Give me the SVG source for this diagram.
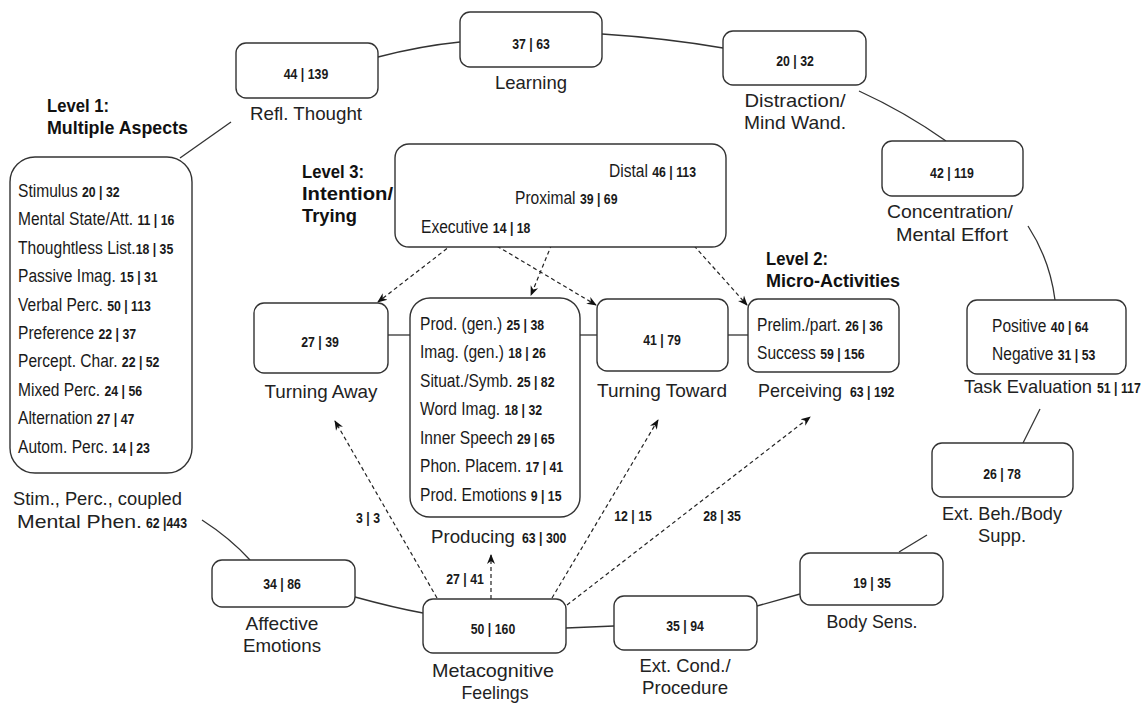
<svg xmlns="http://www.w3.org/2000/svg" width="1143" height="703" viewBox="0 0 1143 703">
<defs>
<style>
.bx{fill:#fff;stroke:#333;stroke-width:1.4}
.ln{fill:none;stroke:#333;stroke-width:1.3}
.da{fill:none;stroke:#222;stroke-width:1.2;stroke-dasharray:4 3;marker-end:url(#ah)}
.li{font-family:"Liberation Sans",Arial,sans-serif;font-size:19px;fill:#1a1a1a}
.b{font-family:"Liberation Sans",Arial,sans-serif;font-size:15px;font-weight:bold;fill:#1a1a1a}
.n{font-family:"Liberation Sans",Arial,sans-serif;font-size:15px;font-weight:bold;fill:#1a1a1a;text-anchor:middle}
.lbl{font-family:"Liberation Sans",Arial,sans-serif;font-size:18.5px;fill:#222}
.c{text-anchor:middle}
.hd{font-family:"Liberation Sans",Arial,sans-serif;font-size:18px;font-weight:bold;fill:#111}
</style>
<marker id="ah" viewBox="0 0 10 10" refX="9" refY="5" markerWidth="10" markerHeight="10" markerUnits="userSpaceOnUse" orient="auto">
<path d="M0,1 L10,5 L0,9 L3,5 z" fill="#111"/>
</marker>
</defs>
<rect width="1143" height="703" fill="#fff"/>

<g id="connectors">
<path class="ln" d="M378,57 Q420,46 460,42"/>
<path class="ln" d="M602,34 Q665,38 723,48"/>
<path class="ln" d="M859,91 Q905,112 946,141"/>
<path class="ln" d="M1028,226 Q1050,260 1055,300"/>
<path class="ln" d="M1040,409 L1023,443"/>
<path class="ln" d="M899,552 L927,535"/>
<path class="ln" d="M757,606 L800,594"/>
<path class="ln" d="M566,628 L614,626"/>
<path class="ln" d="M355,597 Q395,608 423,613"/>
<path class="ln" d="M202,520 Q230,538 250,560"/>
<path class="ln" d="M180,158 L231,122"/>
<path class="ln" d="M388,335 L410,335"/>
<path class="ln" d="M580,335 L597,335"/>
<path class="ln" d="M728,335 L748,335"/>
<path class="da" d="M458,240 L378,302"/>
<path class="da" d="M485,239 L596,305"/>
<path class="da" d="M565,212 L531,295"/>
<path class="da" d="M638,183 L747,305"/>
<path class="da" d="M437,598 L335,421"/>
<path class="da" d="M491,599 L491,555"/>
<path class="da" d="M552,598 L658,420"/>
<path class="da" d="M567,605 L810,417"/>
<text class="n" transform="translate(368,523) scale(0.82,1)">3 | 3</text>
<text class="n" transform="translate(465,584) scale(0.82,1)">27 | 41</text>
<text class="n" transform="translate(633,521) scale(0.82,1)">12 | 15</text>
<text class="n" transform="translate(722,521) scale(0.82,1)">28 | 35</text>
</g>

<g id="level1">
<text class="hd" x="47" y="112" textLength="62" lengthAdjust="spacingAndGlyphs">Level 1:</text>
<text class="hd" x="47" y="134" textLength="141" lengthAdjust="spacingAndGlyphs">Multiple Aspects</text>
<rect class="bx" x="10" y="157" width="182" height="316" rx="25"/>
<text class="li" transform="translate(18,197) scale(0.82,1)">Stimulus <tspan class="b">20 | 32</tspan></text>
<text class="li" transform="translate(18,225) scale(0.82,1)">Mental State/Att. <tspan class="b">11 | 16</tspan></text>
<text class="li" transform="translate(18,254) scale(0.82,1)">Thoughtless List.<tspan class="b">18 | 35</tspan></text>
<text class="li" transform="translate(18,282) scale(0.82,1)">Passive Imag. <tspan class="b">15 | 31</tspan></text>
<text class="li" transform="translate(18,311) scale(0.82,1)">Verbal Perc. <tspan class="b">50 | 113</tspan></text>
<text class="li" transform="translate(18,339) scale(0.82,1)">Preference <tspan class="b">22 | 37</tspan></text>
<text class="li" transform="translate(18,367) scale(0.82,1)">Percept. Char. <tspan class="b">22 | 52</tspan></text>
<text class="li" transform="translate(18,396) scale(0.82,1)">Mixed Perc. <tspan class="b">24 | 56</tspan></text>
<text class="li" transform="translate(18,424) scale(0.82,1)">Alternation <tspan class="b">27 | 47</tspan></text>
<text class="li" transform="translate(18,453) scale(0.82,1)">Autom. Perc. <tspan class="b">14 | 23</tspan></text>
<text class="lbl" x="13" y="505" textLength="169" lengthAdjust="spacingAndGlyphs">Stim., Perc., coupled</text>
<text class="lbl" x="17" y="528" textLength="125" lengthAdjust="spacingAndGlyphs">Mental Phen.</text>
<text class="b" transform="translate(146,528) scale(0.82,1)">62 |443</text>
</g>

<g id="refl">
<rect class="bx" x="236" y="43" width="142" height="55" rx="10"/>
<text class="n" transform="translate(306,79) scale(0.82,1)">44 | 139</text>
<text class="lbl c" x="306" y="120" textLength="112" lengthAdjust="spacingAndGlyphs">Refl. Thought</text>
</g>

<g id="learning">
<rect class="bx" x="460" y="12" width="142" height="55" rx="10"/>
<text class="n" transform="translate(531,49) scale(0.82,1)">37 | 63</text>
<text class="lbl c" x="531" y="89" textLength="72" lengthAdjust="spacingAndGlyphs">Learning</text>
</g>

<g id="distraction">
<rect class="bx" x="723" y="31" width="143" height="54" rx="10"/>
<text class="n" transform="translate(795,66) scale(0.82,1)">20 | 32</text>
<text class="lbl c" x="795" y="107" textLength="101" lengthAdjust="spacingAndGlyphs">Distraction/</text>
<text class="lbl c" x="795" y="129" textLength="102" lengthAdjust="spacingAndGlyphs">Mind Wand.</text>
</g>

<g id="concentration">
<rect class="bx" x="882" y="141" width="141" height="55" rx="10"/>
<text class="n" transform="translate(952,178) scale(0.82,1)">42 | 119</text>
<text class="lbl c" x="950" y="218" textLength="126" lengthAdjust="spacingAndGlyphs">Concentration/</text>
<text class="lbl c" x="952" y="241" textLength="112" lengthAdjust="spacingAndGlyphs">Mental Effort</text>
</g>

<g id="intention">
<text class="hd" x="302" y="178" textLength="62" lengthAdjust="spacingAndGlyphs">Level 3:</text>
<text class="hd" x="302" y="200" textLength="91" lengthAdjust="spacingAndGlyphs">Intention/</text>
<text class="hd" x="302" y="222" textLength="55" lengthAdjust="spacingAndGlyphs">Trying</text>
<rect class="bx" x="395" y="144" width="331" height="103" rx="14"/>
<text class="li" transform="translate(609,177) scale(0.82,1)">Distal <tspan class="b">46 | 113</tspan></text>
<text class="li" transform="translate(515,204) scale(0.82,1)">Proximal <tspan class="b">39 | 69</tspan></text>
<text class="li" transform="translate(421,233) scale(0.82,1)">Executive <tspan class="b">14 | 18</tspan></text>
</g>

<g id="turning-away">
<rect class="bx" x="254" y="303" width="134" height="70" rx="10"/>
<text class="n" transform="translate(320,347) scale(0.82,1)">27 | 39</text>
<text class="lbl c" x="321" y="398" textLength="113" lengthAdjust="spacingAndGlyphs">Turning Away</text>
</g>

<g id="producing">
<rect class="bx" x="410" y="298" width="170" height="219" rx="20"/>
<text class="li" transform="translate(420,330) scale(0.82,1)">Prod. (gen.) <tspan class="b">25 | 38</tspan></text>
<text class="li" transform="translate(420,358) scale(0.82,1)">Imag. (gen.) <tspan class="b">18 | 26</tspan></text>
<text class="li" transform="translate(420,387) scale(0.82,1)">Situat./Symb. <tspan class="b">25 | 82</tspan></text>
<text class="li" transform="translate(420,415) scale(0.82,1)">Word Imag. <tspan class="b">18 | 32</tspan></text>
<text class="li" transform="translate(420,444) scale(0.82,1)">Inner Speech <tspan class="b">29 | 65</tspan></text>
<text class="li" transform="translate(420,472) scale(0.82,1)">Phon. Placem. <tspan class="b">17 | 41</tspan></text>
<text class="li" transform="translate(420,501) scale(0.82,1)">Prod. Emotions <tspan class="b">9 | 15</tspan></text>
<text class="lbl" x="431" y="543" textLength="84" lengthAdjust="spacingAndGlyphs">Producing</text>
<text class="b" transform="translate(522,543) scale(0.82,1)">63 | 300</text>
</g>

<g id="turning-toward">
<rect class="bx" x="597" y="299" width="131" height="72" rx="10"/>
<text class="n" transform="translate(662,345) scale(0.82,1)">41 | 79</text>
<text class="lbl c" x="662" y="397" textLength="130" lengthAdjust="spacingAndGlyphs">Turning Toward</text>
</g>

<g id="perceiving">
<text class="hd" x="766" y="265" textLength="62" lengthAdjust="spacingAndGlyphs">Level 2:</text>
<text class="hd" x="766" y="287" textLength="134" lengthAdjust="spacingAndGlyphs">Micro-Activities</text>
<rect class="bx" x="748" y="299" width="151" height="73" rx="10"/>
<text class="li" transform="translate(757,331) scale(0.82,1)">Prelim./part. <tspan class="b">26 | 36</tspan></text>
<text class="li" transform="translate(757,359) scale(0.82,1)">Success <tspan class="b">59 | 156</tspan></text>
<text class="lbl" x="758" y="397" textLength="84" lengthAdjust="spacingAndGlyphs">Perceiving</text>
<text class="b" transform="translate(850,397) scale(0.82,1)">63 | 192</text>
</g>

<g id="task-evaluation">
<rect class="bx" x="967" y="300" width="159" height="74" rx="10"/>
<text class="li" transform="translate(992,332) scale(0.82,1)">Positive <tspan class="b">40 | 64</tspan></text>
<text class="li" transform="translate(992,360) scale(0.82,1)">Negative <tspan class="b">31 | 53</tspan></text>
<text class="lbl" x="964" y="393" textLength="128" lengthAdjust="spacingAndGlyphs">Task Evaluation</text>
<text class="b" transform="translate(1097,393) scale(0.82,1)">51 | 117</text>
</g>

<g id="ext-beh">
<rect class="bx" x="932" y="443" width="141" height="54" rx="10"/>
<text class="n" transform="translate(1002,479) scale(0.82,1)">26 | 78</text>
<text class="lbl c" x="1002" y="520" textLength="120" lengthAdjust="spacingAndGlyphs">Ext. Beh./Body</text>
<text class="lbl c" x="1002" y="542" textLength="48" lengthAdjust="spacingAndGlyphs">Supp.</text>
</g>

<g id="body-sens">
<rect class="bx" x="800" y="553" width="143" height="52" rx="10"/>
<text class="n" transform="translate(872,588) scale(0.82,1)">19 | 35</text>
<text class="lbl c" x="872" y="628" textLength="91" lengthAdjust="spacingAndGlyphs">Body Sens.</text>
</g>

<g id="ext-cond">
<rect class="bx" x="614" y="596" width="143" height="54" rx="10"/>
<text class="n" transform="translate(685,631) scale(0.82,1)">35 | 94</text>
<text class="lbl c" x="685" y="672" textLength="91" lengthAdjust="spacingAndGlyphs">Ext. Cond./</text>
<text class="lbl c" x="685" y="694" textLength="86" lengthAdjust="spacingAndGlyphs">Procedure</text>
</g>

<g id="metacognitive">
<rect class="bx" x="423" y="599" width="143" height="54" rx="10"/>
<text class="n" transform="translate(493,634) scale(0.82,1)">50 | 160</text>
<text class="lbl c" x="493" y="677" textLength="122" lengthAdjust="spacingAndGlyphs">Metacognitive</text>
<text class="lbl c" x="495" y="699" textLength="67" lengthAdjust="spacingAndGlyphs">Feelings</text>
</g>

<g id="affective">
<rect class="bx" x="212" y="560" width="143" height="47" rx="10"/>
<text class="n" transform="translate(282,589) scale(0.82,1)">34 | 86</text>
<text class="lbl c" x="282" y="630" textLength="73" lengthAdjust="spacingAndGlyphs">Affective</text>
<text class="lbl c" x="282" y="652" textLength="78" lengthAdjust="spacingAndGlyphs">Emotions</text>
</g>
</svg>
